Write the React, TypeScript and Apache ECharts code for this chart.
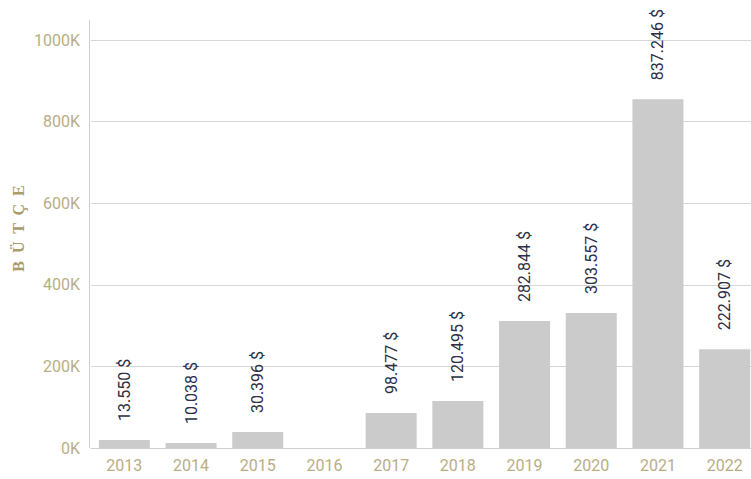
import React, { useEffect, useRef } from "react";
import * as echarts from "echarts";

const categories = ["2013", "2014", "2015", "2016", "2017", "2018", "2019", "2020", "2021", "2022"];
// bar heights as drawn in the picture
const barValues = [19600, 12000, 39000, 0, 86000, 115000, 311000, 331000, 855000, 242000];
// label texts shown above the bars
const labelTexts = ["13.550 $", "10.038 $", "30.396 $", "", "98.477 $", "120.495 $", "282.844 $", "303.557 $", "837.246 $", "222.907 $"];
const yTicks = [0, 200000, 400000, 600000, 800000, 1000000];
const yTitle = "B  Ü  T  Ç  E";

const GOLD = "#b9ad84";
const FONT = "Roboto";

export default function App() {
  const ref = useRef<HTMLDivElement>(null);
  useEffect(() => {
    if (!ref.current) return;
    document.body.style.overflow = "hidden";
    const chart = echarts.init(ref.current, undefined, { renderer: "svg" });
    chart.setOption({
      animation: false,
      backgroundColor: "#ffffff",
      grid: { left: 91, right: 0, top: 40, bottom: 31, containLabel: false },
      graphic: [
        {
          type: "line",
          shape: { x1: 89.5, y1: 20, x2: 89.5, y2: 448 },
          style: { stroke: "#cfcfcf", lineWidth: 1 },
          z: 10,
        },
        {
          type: "text",
          x: 18,
          y: 228.5,
          rotation: Math.PI / 2,
          style: {
            text: yTitle,
            fontFamily: "Liberation Serif",
            fontWeight: "bold",
            fontSize: 16,
            fill: "#ab9b68",
            align: "center",
            verticalAlign: "middle",
          },
        },
      ],
      xAxis: {
        type: "category",
        data: categories,
        axisLine: { show: true, lineStyle: { color: "#cfcfcf", width: 1 } },
        axisTick: { show: false },
        axisLabel: { color: GOLD, fontFamily: FONT, fontSize: 16, margin: 9 },
      },
      yAxis: {
        type: "value",
        min: yTicks[0],
        max: yTicks[yTicks.length - 1],
        interval: yTicks[1] - yTicks[0],
        axisLine: { show: false },
        axisTick: { show: false },
        splitLine: { lineStyle: { color: "#d6d6d6", width: 1 } },
        axisLabel: {
          color: GOLD,
          fontFamily: FONT,
          fontSize: 16,
          margin: 11,
          formatter: (v: number) => v / 1000 + "K",
        },
      },
      series: [
        {
          type: "bar",
          data: barValues,
          barWidth: 51,
          itemStyle: { color: "#cbcbcb" },
          label: {
            show: true,
            position: "top",
            rotate: 90,
            align: "left",
            verticalAlign: "middle",
            distance: 19,
            color: "#2c2f45",
            fontFamily: FONT,
            fontSize: 16,
            formatter: (p: any) => labelTexts[p.dataIndex],
          },
        },
      ],
    });
    return () => chart.dispose();
  }, []);
  return <div ref={ref} style={{ position: "fixed", left: 0, top: 0, width: 758, height: 479 }} />;
}
